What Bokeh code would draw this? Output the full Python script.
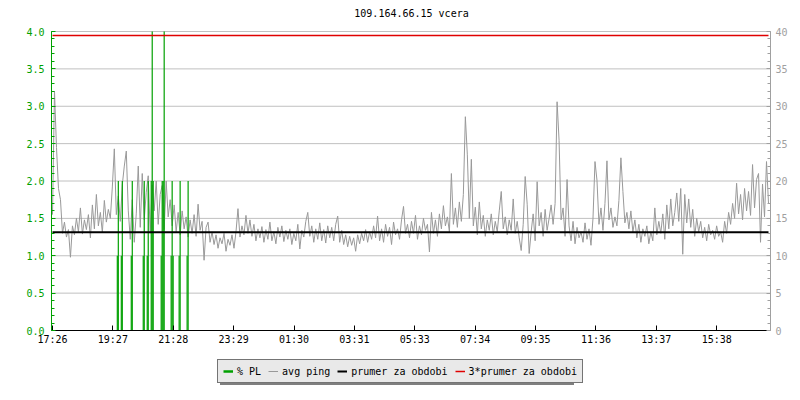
from bokeh.plotting import figure
from bokeh.models import Range1d, LinearAxis, FixedTicker, Legend, LegendItem, PrintfTickFormatter, Label
from bokeh.embed import file_html
from bokeh.resources import INLINE

title_text = "109.164.66.15 vcera"
x_tick_labels = ["17:26", "19:27", "21:28", "23:29", "01:30", "03:31",
                 "05:33", "07:34", "09:35", "11:36", "13:37", "15:38"]
legend_labels = ["% PL", "avg ping", "prumer za obdobi", "3*prumer za obdobi"]
tick_step_min = 121.1
sample_step_min = 4

# avg ping in ms, one value every 4 minutes
ping_ms = [
    15.5, 32.0, 24.5, 19.0, 17.5, 13.0, 14.5, 12.5, 13.5, 9.8, 14.0, 12.8, 15.0, 13.2, 16.4, 12.9, 14.8, 13.5, 15.5, 12.4,
    16.8, 13.6, 18.2, 14.0, 15.8, 13.1, 17.4, 14.5, 16.2, 15.0, 19.2, 24.3, 15.5, 18.0, 14.6, 19.5, 22.0, 24.0, 16.0, 12.2,
    17.5, 11.8, 15.6, 22.0, 13.8, 21.0, 14.8, 18.5, 20.7, 13.0, 19.5, 16.0, 20.0, 14.2, 18.2, 19.4, 13.5, 20.0, 15.2, 17.5,
    14.0, 16.8, 13.2, 15.8, 12.8, 16.0, 13.6, 15.2, 12.5, 14.8, 13.0, 15.5, 12.6, 16.9, 13.4, 14.6, 9.4, 13.8, 14.5, 11.8,
    13.2, 11.5, 12.8, 11.0, 12.4, 11.6, 13.0, 10.6, 12.2, 11.4, 12.8, 11.0, 13.2, 16.3, 12.5, 14.0, 12.8, 15.4, 13.0, 14.8,
    12.6, 14.2, 12.0, 13.6, 12.4, 13.9, 11.8, 13.5, 12.2, 14.5, 12.0, 13.2, 11.6, 13.8, 12.5, 14.0, 11.9, 13.4, 12.2, 13.6,
    11.5, 13.0, 12.0, 14.2, 10.9, 13.4, 12.5, 14.6, 15.8, 12.6, 14.0, 11.8, 13.6, 12.2, 14.4, 12.0, 13.5, 11.7, 14.0, 12.4,
    13.8, 12.0, 14.2, 15.3, 11.8, 13.4, 11.5, 12.8, 11.2, 12.6, 11.4, 12.4, 10.6, 12.8, 11.6, 13.0, 12.0, 13.5, 11.8, 13.2,
    12.2, 14.0, 12.4, 15.3, 12.0, 13.6, 11.8, 14.2, 12.6, 13.8, 11.5, 14.5, 12.8, 13.6, 12.2, 14.8, 16.6, 13.0, 14.2, 12.4,
    14.6, 13.0, 15.4, 12.2, 14.0, 12.8, 15.0, 13.4, 14.2, 10.5, 15.8, 13.0, 14.8, 12.6, 15.6, 13.6, 16.7, 14.0, 15.2, 13.2,
    21.0, 14.2, 16.4, 13.8, 17.2, 14.6, 18.2, 28.6, 23.5, 15.0, 22.9, 14.0, 16.5, 12.8, 17.2, 13.6, 15.4, 12.6, 14.8, 13.4,
    15.6, 12.8, 14.6, 13.2, 16.0, 18.6, 13.6, 15.2, 12.8, 14.8, 13.4, 17.6, 13.0, 14.6, 12.4, 10.7, 14.2, 20.6, 16.9, 10.3,
    13.2, 15.6, 12.0, 19.9, 14.0, 15.8, 12.6, 16.2, 13.4, 15.0, 16.8, 14.2, 17.0, 30.6, 25.4, 14.8, 16.4, 12.6, 20.2, 14.0,
    12.0, 14.6, 11.6, 13.8, 12.4, 13.2, 11.8, 14.4, 12.2, 13.6, 11.4, 15.0, 22.6, 20.1, 14.2, 16.4, 13.4, 17.0, 22.7, 14.8,
    16.4, 13.8, 15.2, 14.0, 17.4, 23.1, 18.6, 14.4, 15.8, 13.6, 16.0, 13.2, 14.8, 12.4, 14.2, 11.8, 13.6, 12.6, 14.0, 11.6,
    13.2, 12.0, 16.4, 12.8, 14.6, 13.0, 15.6, 12.2, 16.8, 13.6, 17.6, 14.0, 15.8, 18.4, 14.6, 19.0, 10.2, 18.2, 14.4, 17.6,
    13.8, 16.2, 12.6, 15.0, 13.2, 14.6, 12.4, 13.8, 12.0, 14.2, 12.8, 13.4, 12.2, 14.0, 12.6, 13.2, 11.8, 14.6, 13.0, 15.8,
    14.2, 17.0, 15.0, 19.7, 15.6, 18.2, 14.8, 19.0, 16.0, 18.6, 15.4, 22.2, 16.4, 20.2, 21.0, 11.8, 19.6, 15.2, 22.6, 17.0,
]

# packet loss in %, minutes after start
pl_minutes = [130, 132, 138, 140, 158, 160, 182, 184, 190, 192, 198, 200,
              202, 218, 220, 222, 224, 238, 240, 242, 254, 256, 270, 272]
pl_values = [1, 2, 1, 2, 1, 2, 1, 2, 1, 2, 2, 4,
             2, 1, 2, 2, 4, 1, 2, 1, 1, 2, 1, 2]

prumer_ms = 13.15

GREEN = "#00a000"
GRAY = "#999999"
AXGRAY = "#a0a0a0"
FONT = "DejaVu Sans Mono"

# layout (pixels, measured from the top-left of the picture)
AXIS_LEFT_PX = 51     # left axis line
CHART_W_PX = 719      # width of the chart area
TOP_PX = 31           # y of the 4.0 line
ZERO_PX = 330         # y of the 0 line
FRAME_H = 385         # drawing area height (legend lives inside it)
TITLE_X_PX, TITLE_Y_PX = 411, 13
PL_MAX = 4.0
T0, T1 = -2, 1440     # time span shown (minutes)

min_per_px = (T1 - T0) / CHART_W_PX
x_start = T0 - AXIS_LEFT_PX * min_per_px
x_end = T1
px_per_unit = (ZERO_PX - TOP_PX) / PL_MAX
y_start = -(FRAME_H - ZERO_PX) / px_per_unit
y_end = PL_MAX + TOP_PX / px_per_unit

times = [i * sample_step_min for i in range(len(ping_ms))]
prumer_line = [prumer_ms] * len(times)
triple_line = [3 * prumer_ms] * len(times)

p = figure(frame_width=AXIS_LEFT_PX + CHART_W_PX, frame_height=FRAME_H,
           output_backend="svg", toolbar_location=None,
           x_range=Range1d(x_start, x_end), y_range=Range1d(y_start, y_end),
           x_axis_type=None, y_axis_type=None,
           min_border_left=0, min_border_right=30, min_border_top=0,
           min_border_bottom=0, background_fill_color="white",
           border_fill_color="white")
p.outline_line_color = None
p.extra_y_ranges = {"ms": Range1d(y_start * 10, y_end * 10)}

# title
p.add_layout(Label(x=x_start + TITLE_X_PX * min_per_px,
                   y=PL_MAX + (TOP_PX - TITLE_Y_PX) / px_per_unit,
                   text=title_text, text_align="center", text_baseline="middle",
                   text_font=FONT, text_font_size="10px", text_color="black"))

# horizontal grid lines
grid_y = [i * 0.5 for i in range(9)]
p.segment(x0=[T0] * len(grid_y), x1=[T1] * len(grid_y), y0=grid_y, y1=grid_y,
          line_color="#c0c0c0", line_width=1)

# x axis, drawn at y = 0
xa = LinearAxis(fixed_location=0, bounds=(T0, T1))
xa.ticker = FixedTicker(ticks=[i * tick_step_min for i in range(len(x_tick_labels))])
xa.major_label_overrides = {i * tick_step_min: lab for i, lab in enumerate(x_tick_labels)}
xa.major_tick_in = 5
xa.major_tick_out = 0
xa.minor_tick_line_color = None
xa.axis_line_color = "black"
xa.major_tick_line_color = "black"
xa.major_label_text_font = FONT
xa.major_label_text_font_size = "10px"
xa.major_label_text_color = "black"
xa.major_label_standoff = 3
p.add_layout(xa, "below")

# left axis (% PL), drawn at the start of the time span
ya = LinearAxis(fixed_location=T0, bounds=(0, PL_MAX))
ya.ticker = FixedTicker(ticks=grid_y, minor_ticks=[i * 0.1 for i in range(41)])
ya.formatter = PrintfTickFormatter(format="%.1f")
ya.axis_line_color = GREEN
ya.major_tick_line_color = GREEN
ya.minor_tick_line_color = GREEN
ya.major_tick_in = 4
ya.major_tick_out = 0
ya.minor_tick_in = 3
ya.minor_tick_out = 0
ya.major_label_text_color = GREEN
ya.major_label_text_font = FONT
ya.major_label_text_font_size = "10px"
ya.major_label_standoff = 7
p.add_layout(ya, "left")

# right axis (ms)
ra = LinearAxis(y_range_name="ms", bounds=(0, PL_MAX * 10))
ra.ticker = FixedTicker(ticks=[i * 5 for i in range(9)],
                        minor_ticks=list(range(41)))
ra.axis_line_color = AXGRAY
ra.major_tick_line_color = AXGRAY
ra.minor_tick_line_color = AXGRAY
ra.major_tick_in = 4
ra.major_tick_out = 0
ra.minor_tick_in = 3
ra.minor_tick_out = 0
ra.major_label_text_color = AXGRAY
ra.major_label_text_font = FONT
ra.major_label_text_font_size = "10px"
ra.major_label_standoff = 5
p.add_layout(ra, "right")

r_ping = p.line(times, ping_ms, y_range_name="ms", color=GRAY, line_width=1)
r_pl = p.vbar(x=pl_minutes, top=pl_values, bottom=0, width=2.4,
              color=GREEN, line_color=None)
r_avg = p.line(times, prumer_line, y_range_name="ms", color="black", line_width=2)
r_tri = p.line(times, triple_line, y_range_name="ms", color="#e00000", line_width=1.5)

# legend swatch for % PL (a line) and an invisible renderer for the shadow box
nan = float("nan")
r_sw_pl = p.line(times[:2], [nan, nan], color=GREEN, line_width=2.5)
r_hidden = p.line(times[:2], [nan, nan], line_alpha=0)


def style_legend(lg):
    lg.orientation = "horizontal"
    lg.label_text_font = FONT
    lg.label_text_font_size = "10px"
    lg.glyph_width = 10
    lg.glyph_height = 12
    lg.label_height = 12
    lg.label_standoff = 4
    lg.spacing = 7
    lg.padding = 5
    lg.margin = 0
    lg.background_fill_alpha = 1


# the shadow box: same size as the legend, blank (non-breaking space) labels
shadow = Legend(items=[LegendItem(label="\u00a0" * len(t), renderers=[r_hidden])
                       for t in legend_labels],
                location=(220, 0))
style_legend(shadow)
shadow.label_text_alpha = 0
shadow.border_line_color = None
shadow.background_fill_color = "#7f7f7f"
p.add_layout(shadow, "center")

legend = Legend(items=[
    LegendItem(label=legend_labels[0], renderers=[r_sw_pl]),
    LegendItem(label=legend_labels[1], renderers=[r_ping]),
    LegendItem(label=legend_labels[2], renderers=[r_avg]),
    LegendItem(label=legend_labels[3], renderers=[r_tri]),
], location=(217, 2))
style_legend(legend)
legend.label_text_color = "black"
legend.border_line_color = "black"
legend.border_line_width = 1
legend.background_fill_color = "#e9e9e9"
p.add_layout(legend, "center")

open("out.html", "w").write(file_html(p, INLINE))
